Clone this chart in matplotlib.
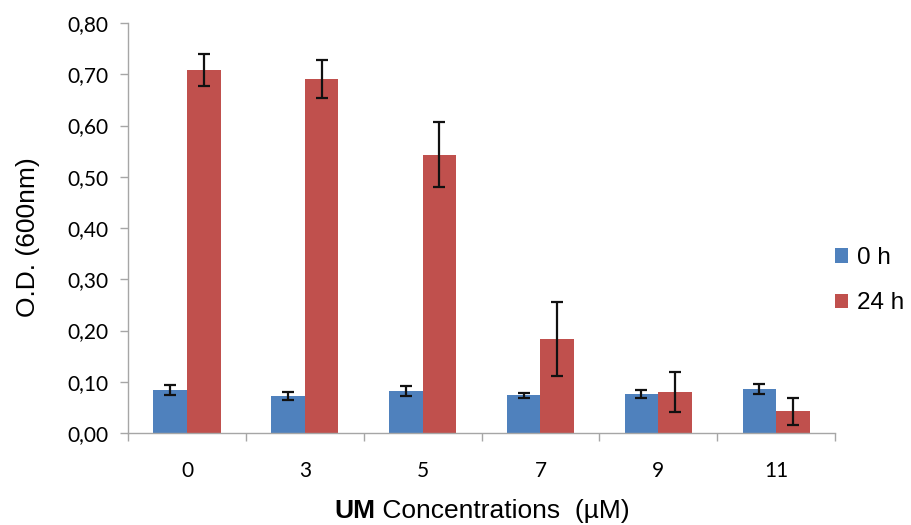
import numpy as np
import matplotlib.pyplot as plt

concs = ["0", "3", "5", "7", "9", "11"]
od_0h = [0.084, 0.073, 0.082, 0.074, 0.076, 0.086]
err_0h = [0.009, 0.008, 0.009, 0.005, 0.008, 0.009]
od_24h = [0.709, 0.690, 0.543, 0.183, 0.080, 0.042]
err_24h = [0.031, 0.037, 0.063, 0.072, 0.039, 0.026]
yticks = [0.0, 0.1, 0.2, 0.3, 0.4, 0.5, 0.6, 0.7, 0.8]

blue = "#4f81bd"
red = "#c0504d"
grey = "#a6a6a6"

fig = plt.figure(figsize=(9.12, 5.25), dpi=100)
ax = fig.add_axes([0.1404, 0.1752, 0.7752, 0.781])

x = np.arange(len(concs))
w = 0.285
ekw = dict(elinewidth=1.6, capthick=1.6, ecolor="#111111")
ax.bar(x - w / 2, od_0h, w, yerr=err_0h, capsize=4, color=blue, label="0 h", error_kw=ekw)
ax.bar(x + w / 2, od_24h, w, yerr=err_24h, capsize=4, color=red, label="24 h", error_kw=ekw)

ax.set_xlim(-0.5, len(concs) - 0.5)
ax.set_ylim(0, 0.8)
ax.set_yticks(yticks)
ax.set_yticklabels([("%.2f" % v).replace(".", ",") for v in yticks], fontsize=15, family="Lato")
ax.set_xticks(x)
ax.set_xticklabels(concs, fontsize=15, family="Lato")
ax.set_xticks(np.arange(len(concs) + 1) - 0.5, minor=True)
ax.tick_params(axis="x", which="major", length=0, pad=20)
ax.tick_params(axis="x", which="minor", length=6, color=grey, width=1)
ax.tick_params(axis="y", length=6, color=grey, width=1, pad=8)

for s in ["top", "right"]:
    ax.spines[s].set_visible(False)
for s in ["left", "bottom"]:
    ax.spines[s].set_color(grey)
    ax.spines[s].set_linewidth(1)

fig.text(0.031, 0.548, "O.D. (600nm)", rotation=90, fontsize=19, family="Liberation Sans",
         ha="center", va="center")

# x label: bold "UM" + regular rest
fig.canvas.draw()
r = fig.canvas.get_renderer()
t1 = fig.text(0, 0.013, "UM", fontsize=19, fontweight="bold", family="Liberation Sans", va="baseline")
t2 = fig.text(0, 0.013, " Concentrations  (\u00b5M)", fontsize=19, family="Liberation Sans", va="baseline")
w1 = t1.get_window_extent(r).width
w2 = t2.get_window_extent(r).width
x0 = 482 - (w1 + w2) / 2
t1.set_x(x0 / 912)
t2.set_x((x0 + w1) / 912)

ax.legend(loc="center left", bbox_to_anchor=(1.0, 0.371), frameon=False,
          prop={"family": "Liberation Sans", "size": 17.5}, handlelength=0.55, handleheight=0.55,
          handletextpad=0.35, labelspacing=0.95, borderpad=0, borderaxespad=0)

fig.savefig("out.png", dpi=100)
